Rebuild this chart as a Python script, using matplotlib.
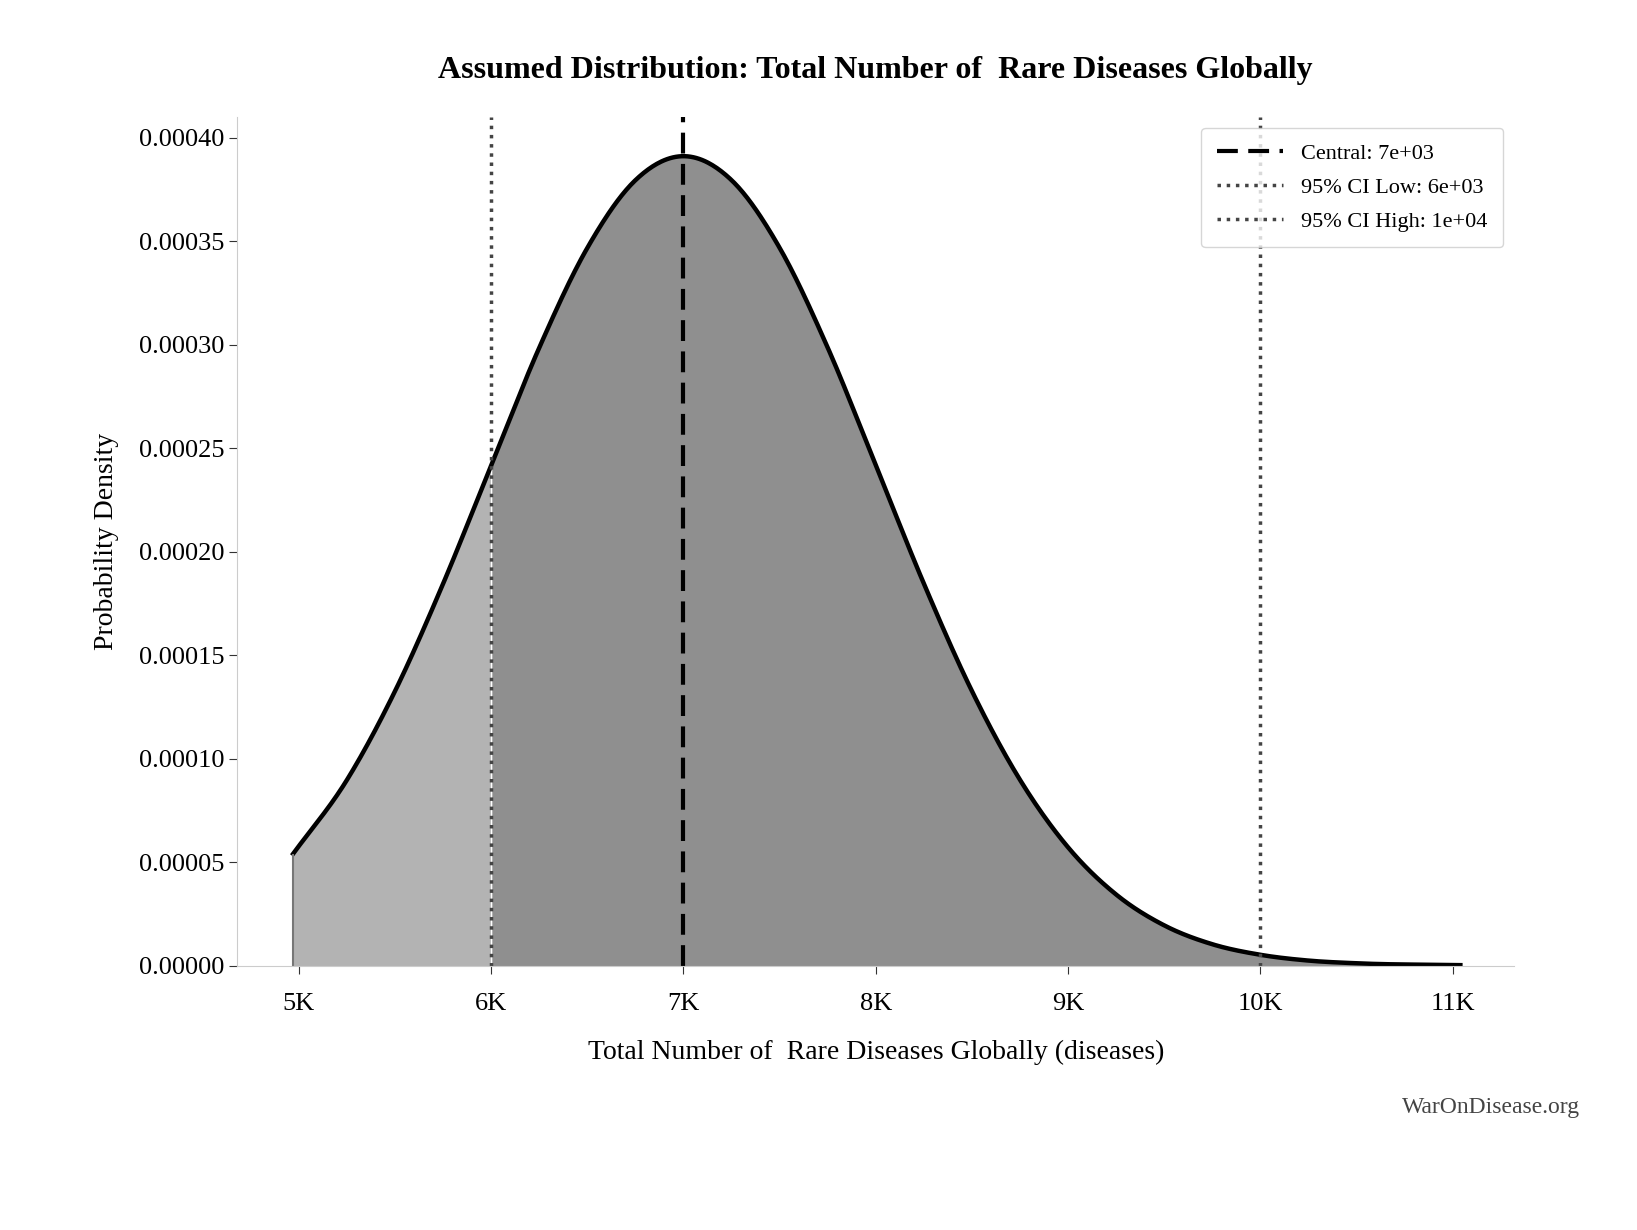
import numpy as np
import matplotlib.pyplot as plt
from matplotlib.ticker import FuncFormatter

plt.rcParams['font.family'] = ['Liberation Serif', 'DejaVu Serif']

# values
x_vals = [4970, 5250, 5500, 5750, 6000, 6250, 6500, 6750, 7000, 7250, 7500, 7750,
          8000, 8250, 8500, 8750, 9000, 9250, 9500, 9750, 10000, 10250, 10500, 11040]
y_vals = [0.0000540, 0.0000897, 0.0001326, 0.0001845, 0.0002417, 0.0002985, 0.0003467, 0.0003794,
          0.000391, 0.0003794, 0.0003467, 0.0002985, 0.0002417, 0.0001845, 0.0001326, 0.0000897,
          0.0000571, 0.0000343, 0.0000194, 0.0000103, 0.0000052, 0.0000024, 0.0000011, 0.0000002]
central = 7000
ci_low = 6000
ci_high = 10000

x = np.array(x_vals, dtype=float)
y = np.array(y_vals)
# dense x only for drawing a smooth line through the read points
xs = np.linspace(x[0], x[-1], 800)
m = np.gradient(y, x)
idx = np.clip(np.searchsorted(x, xs) - 1, 0, len(x) - 2)
h = x[idx + 1] - x[idx]
t = (xs - x[idx]) / h
ys = ((2*t**3 - 3*t**2 + 1) * y[idx] + (t**3 - 2*t**2 + t) * h * m[idx]
      + (-2*t**3 + 3*t**2) * y[idx + 1] + (t**3 - t**2) * h * m[idx + 1])
ys = np.maximum(ys, 0)

fig, ax = plt.subplots(figsize=(16.37, 12.3), dpi=100)
fig.subplots_adjust(left=0.145, right=0.925, top=0.905, bottom=0.215)

ax.fill_between(xs, ys, where=xs <= ci_low, color='#b3b3b3', linewidth=0)
ax.fill_between(xs, ys, where=xs >= ci_low, color='#8f8f8f', linewidth=0)
ax.plot(xs, ys, color='black', linewidth=3.2)
ax.vlines(x[0], 0, y[0], color='#777777', linewidth=1.5)

ax.axvline(central, color='black', linestyle='--', linewidth=3, dashes=(5, 2.5), label='Central: 7e+03')
ax.axvline(ci_low, color='#444444', linestyle=':', linewidth=2.5, label='95% CI Low: 6e+03')
ax.axvline(ci_high, color='#444444', linestyle=':', linewidth=2.5, label='95% CI High: 1e+04')

ax.set_xlim(4680, 11320)
ax.set_ylim(0, 0.00041)
ax.set_xticks([5000, 6000, 7000, 8000, 9000, 10000, 11000])
ax.xaxis.set_major_formatter(FuncFormatter(lambda v, p: f'{v/1000:.0f}K'))
ax.set_yticks(np.arange(0, 0.000401, 0.00005))
ax.yaxis.set_major_formatter(FuncFormatter(lambda v, p: f'{v:.5f}'))
ax.tick_params(labelsize=19, length=6, color='#333333')
ax.tick_params(axis='x', pad=14)

for s in ['top', 'right']:
    ax.spines[s].set_visible(False)
for s in ['left', 'bottom']:
    ax.spines[s].set_color('#cccccc')

ax.set_xlabel('Total Number of  Rare Diseases Globally (diseases)', fontsize=20, labelpad=18)
ax.set_ylabel('Probability Density', fontsize=20, labelpad=14)
ax.set_title('Assumed Distribution: Total Number of  Rare Diseases Globally',
             fontsize=23, fontweight='bold', pad=28)
ax.legend(loc='upper right', fontsize=16, handlelength=3, borderpad=0.7, labelspacing=0.6)
fig.text(0.965, 0.095, 'WarOnDisease.org', fontsize=17, color='#444444', ha='right')

plt.savefig('out.png', dpi=100)
